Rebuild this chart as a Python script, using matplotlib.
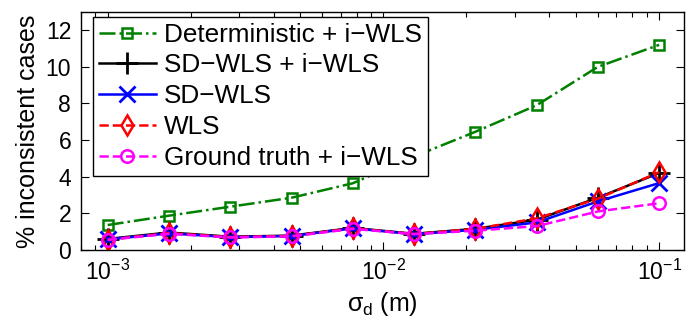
import numpy as np
import matplotlib
matplotlib.use("Agg")
import matplotlib.pyplot as plt
from matplotlib.ticker import LogLocator, NullFormatter

plt.rcParams['font.family'] = ['Liberation Sans', 'DejaVu Sans']
plt.rcParams['mathtext.fontset'] = 'custom'
plt.rcParams['mathtext.rm'] = 'Liberation Sans'
plt.rcParams['mathtext.it'] = 'Liberation Sans'

sigma_d = [1e-3, 1.668e-3, 2.783e-3, 4.642e-3, 7.743e-3, 1.292e-2, 2.154e-2, 3.594e-2, 5.995e-2, 1e-1]
deterministic_iwls = [1.36, 1.87, 2.36, 2.85, 3.64, 5.1, 6.45, 7.9, 10.0, 11.2]
sdwls_iwls = [0.6, 0.95, 0.72, 0.78, 1.2, 0.88, 1.15, 1.65, 2.85, 4.2]
sdwls = [0.58, 0.9, 0.7, 0.76, 1.18, 0.86, 1.1, 1.5, 2.65, 3.65]
wls = [0.55, 0.92, 0.7, 0.76, 1.18, 0.87, 1.15, 1.72, 2.8, 4.25]
ground_truth_iwls = [0.55, 0.88, 0.68, 0.74, 1.15, 0.86, 1.05, 1.3, 2.1, 2.55]

labels = ['Deterministic + i\u2212WLS', 'SD\u2212WLS + i\u2212WLS', 'SD\u2212WLS', 'WLS',
          'Ground truth + i\u2212WLS']

fig = plt.figure(figsize=(6.86, 3.31), dpi=100)
ax = fig.add_axes([0.118, 0.245, 0.879, 0.719])

lw = 1.8
ax.plot(sigma_d, deterministic_iwls, linestyle='-.', color='#008000', marker='s', ms=7,
        mfc='none', mew=1.8, lw=lw, label=labels[0])
ax.plot(sigma_d, sdwls_iwls, linestyle='-', color='black', marker='+', ms=16,
        mew=2, lw=lw, label=labels[1])
ax.plot(sigma_d, sdwls, linestyle='-', color='#0000ff', marker='x', ms=12,
        mew=2, lw=lw, label=labels[2])
ax.plot(sigma_d, wls, linestyle='--', color='#ff0000', marker='d', ms=10,
        mfc='none', mew=1.8, lw=lw, label=labels[3])
ax.plot(sigma_d, ground_truth_iwls, linestyle='--', color='#ff00ff', marker='o', ms=9,
        mfc='none', mew=1.8, lw=lw, label=labels[4])

ax.set_xscale('log')
ax.set_xlim(8e-4, 0.123)
ax.set_ylim(0, 13)
ax.set_yticks([0, 2, 4, 6, 8, 10, 12])
ax.xaxis.set_major_locator(LogLocator(base=10, numticks=10))
ax.xaxis.set_minor_locator(LogLocator(base=10, subs=np.arange(2, 10), numticks=20))
ax.xaxis.set_minor_formatter(NullFormatter())

ax.tick_params(which='both', direction='in', top=True, right=True, labelsize=16.5, pad=7)
ax.tick_params(which='major', length=6, width=0.8)
ax.tick_params(which='minor', length=3.5, width=0.8)
for s in ax.spines.values():
    s.set_linewidth(1.0)

ax.set_ylabel('% inconsistent cases', fontsize=18, labelpad=4)
ax.set_xlabel(r'$\sigma_{\rm d}$ (m)', fontsize=18, labelpad=4)

leg = ax.legend(loc='upper left', bbox_to_anchor=(0.02, 0.979), borderaxespad=0,
                fontsize=18.8, frameon=True, fancybox=False, edgecolor='black',
                handlelength=2.2, handletextpad=0.3, labelspacing=0.26,
                borderpad=0.22, framealpha=1)
leg.get_frame().set_linewidth(1.0)

fig.savefig('out.png', dpi=100)
